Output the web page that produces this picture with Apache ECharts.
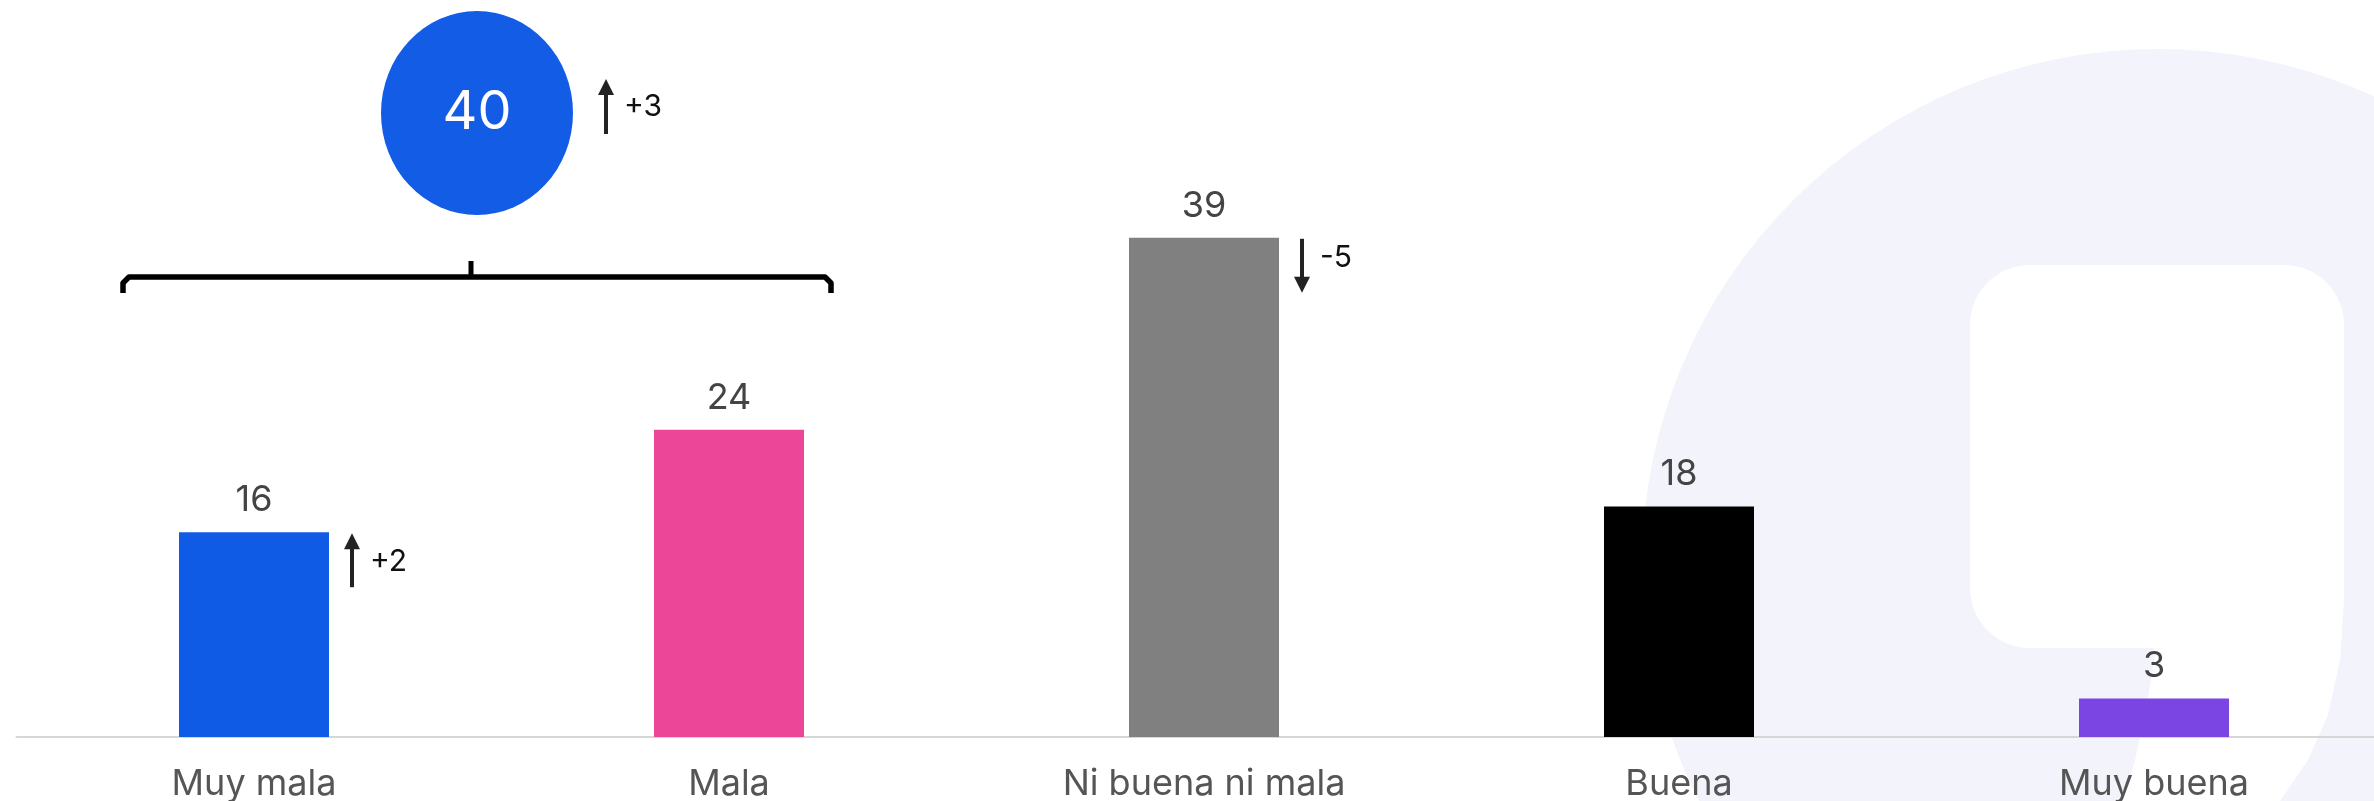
<!DOCTYPE html>
<html>
<head>
<meta charset="utf-8">
<style>
html,body{margin:0;padding:0;background:#fff;}
#main{width:2374px;height:801px;}
</style>
<script src="https://cdn.jsdelivr.net/npm/echarts@6/dist/echarts.min.js"></script>
</head>
<body>
<div id="main"></div>
<script>
// ---- data ----
const categories = ['Muy mala', 'Mala', 'Ni buena ni mala', 'Buena', 'Muy buena'];
const values = [16, 24, 39, 18, 3];
const changes = [2, null, -5, null, null];
const barColors = ['#105BE6', '#EC4699', '#808080', '#000000', '#7B45E3'];
const groupMembers = [0, 1];
const groupTotal = 40;
const groupChange = 3;

const FONT = 'Inter, "Noto Sans", sans-serif';

const chart = echarts.init(document.getElementById('main'));

const changeData = [];
changes.forEach((c, i) => { if (c !== null) changeData.push([i, values[i], c]); });

function arrowShape(x, yTop, yBot, up) {
  const children = [];
  const headH = 16, headW = 8;
  if (up) {
    children.push({ type: 'line', shape: { x1: x, y1: yTop + headH - 2, x2: x, y2: yBot }, style: { stroke: '#222', lineWidth: 4 } });
    children.push({ type: 'polygon', shape: { points: [[x, yTop], [x - headW, yTop + headH], [x + headW, yTop + headH]] }, style: { fill: '#222' } });
  } else {
    children.push({ type: 'line', shape: { x1: x, y1: yTop, x2: x, y2: yBot - headH + 2 }, style: { stroke: '#222', lineWidth: 4 } });
    children.push({ type: 'polygon', shape: { points: [[x, yBot], [x - headW, yBot - headH], [x + headW, yBot - headH]] }, style: { fill: '#222' } });
  }
  return children;
}

const option = {
  backgroundColor: '#ffffff',
  animation: false,
  graphic: {
    elements: [
      { type: 'circle', z: -10, silent: true, shape: { cx: 2158, cy: 565, r: 516 }, style: { fill: '#F3F4FB' } },
      { type: 'rect', z: -9, silent: true, shape: { x: 1970, y: 265, width: 374, height: 383, r: 60 }, style: { fill: '#ffffff' } },
      { type: 'polygon', z: -9, silent: true, shape: { points: [[2150, 600], [2344, 500], [2344, 600], [2340, 660], [2328, 715], [2308, 760], [2280, 801], [2123, 801], [2135, 760], [2146, 710], [2155, 655]], smooth: 0 }, style: { fill: '#ffffff' } }
    ]
  },
  grid: { left: 16.5, right: -17.5, top: 97, bottom: 64, containLabel: false, outerBoundsMode: 'none' },
  xAxis: {
    type: 'category',
    data: categories,
    axisLine: { show: true, lineStyle: { color: '#D6D6D6', width: 2 } },
    axisTick: { show: false },
    axisLabel: { color: '#555555', fontSize: 36, fontFamily: FONT, margin: 29 },
    splitLine: { show: false }
  },
  yAxis: { type: 'value', min: 0, max: 50, show: false, splitLine: { show: false } },
  series: [
    {
      type: 'bar',
      data: values.map((v, i) => ({ value: v, itemStyle: { color: barColors[i] } })),
      barWidth: 150,
      label: { show: true, position: 'top', distance: 14, color: '#444444', fontSize: 36, fontFamily: FONT }
    },
    {
      type: 'custom',
      clip: false,
      data: changeData,
      encode: { x: 0, y: 1 },
      renderItem: function (params, api) {
        const idx = api.value(0), val = api.value(1), ch = api.value(2);
        const p = api.coord([idx, val]);
        const x = p[0] + 75 + 23;
        const yTop = p[1] + 1, yBot = p[1] + 55;
        const children = arrowShape(x, yTop, yBot, ch > 0);
        children.push({
          type: 'text',
          style: { text: (ch > 0 ? '+' : '') + ch, x: x + 18, y: (yTop + yBot) / 2 - (ch > 0 ? -2 : 8), verticalAlign: 'middle', align: 'left', fill: '#111', fontSize: 30, fontFamily: FONT }
        });
        return { type: 'group', children: children };
      }
    },
    {
      type: 'custom',
      clip: false,
      data: [[groupMembers[0], 36, groupMembers[1], groupTotal, groupChange]],
      encode: { x: 0, y: 1 },
      renderItem: function (params, api) {
        const a = api.coord([api.value(0), 0])[0];
        const b = api.coord([api.value(2), 0])[0];
        const x0 = a - 131, x1 = b + 102;
        const mid = (x0 + x1) / 2;
        const tickX = mid - 6;
        const yLine = 277, yEnd = 293, yTick = 261;
        const cy = 113;
        const tot = api.value(3), ch = api.value(4);
        const children = [
          { type: 'polyline', shape: { points: [[x0, yEnd], [x0, yLine + 6], [x0 + 6, yLine], [x1 - 6, yLine], [x1, yLine + 6], [x1, yEnd]] }, style: { stroke: '#000', lineWidth: 5.5, fill: null, lineJoin: 'round' } },
          { type: 'line', shape: { x1: tickX, y1: yTick, x2: tickX, y2: yLine }, style: { stroke: '#000', lineWidth: 5 } },
          { type: 'circle', shape: { cx: 0, cy: 0, r: 96 }, x: mid, y: cy, scaleY: 102 / 96, style: { fill: '#125CE6' } },
          { type: 'text', style: { text: String(tot), x: mid, y: cy, align: 'center', verticalAlign: 'middle', fill: '#ffffff', fontSize: 54, fontFamily: FONT } }
        ];
        const ax = mid + 129;
        arrowShape(ax, 79, 134, ch > 0).forEach(c => children.push(c));
        children.push({ type: 'text', style: { text: (ch > 0 ? '+' : '') + ch, x: ax + 18, y: 107, align: 'left', verticalAlign: 'middle', fill: '#111', fontSize: 30, fontFamily: FONT } });
        return { type: 'group', children: children };
      }
    }
  ]
};
chart.setOption(option);
</script>
</body>
</html>
